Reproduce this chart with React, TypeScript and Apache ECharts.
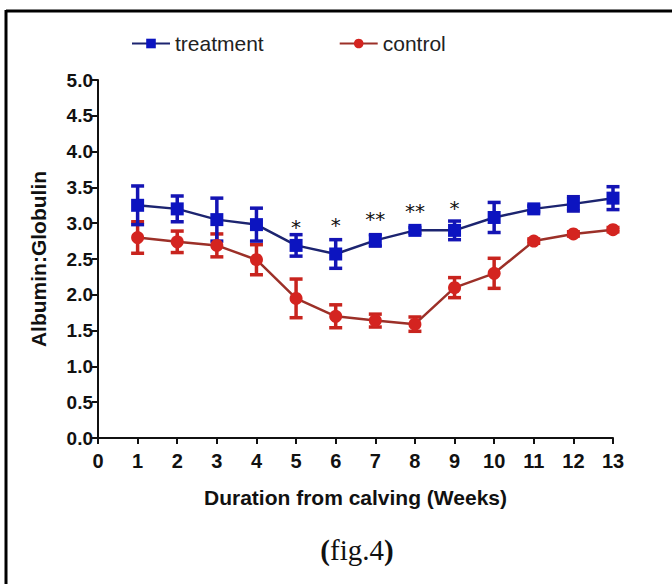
import React, { useEffect, useRef } from "react";
import * as echarts from "echarts";

const weeks = [1, 2, 3, 4, 5, 6, 7, 8, 9, 10, 11, 12, 13];
const treatmentMean = [3.25, 3.2, 3.05, 2.98, 2.69, 2.57, 2.76, 2.9, 2.9, 3.08, 3.2, 3.27, 3.35];
const treatmentErr = [0.27, 0.18, 0.3, 0.23, 0.15, 0.2, 0.08, 0.04, 0.13, 0.21, 0.04, 0.1, 0.16];
const controlMean = [2.8, 2.74, 2.69, 2.49, 1.95, 1.7, 1.64, 1.59, 2.1, 2.3, 2.75, 2.85, 2.91];
const controlErr = [0.22, 0.15, 0.16, 0.21, 0.27, 0.16, 0.09, 0.1, 0.14, 0.21, 0.03, 0.03, 0.03];
const starWeeks = [5, 6, 7, 8, 9];
const starLevels = [2.95, 2.98, 3.06, 3.17, 3.21];
const starMarks = ["*", "*", "**", "**", "*"];
const xTicks = [0, 1, 2, 3, 4, 5, 6, 7, 8, 9, 10, 11, 12, 13];

const FONT = "Liberation Sans, Arial, sans-serif";

function errorSeries(means: number[], errs: number[], color: string) {
  return {
    type: "custom",
    silent: true,
    z: 3,
    data: weeks.map((w, i) => [w, means[i] - errs[i], means[i] + errs[i]]),
    renderItem: (params: any, api: any) => {
      const x = api.value(0);
      const lo = api.coord([x, api.value(1)]);
      const hi = api.coord([x, api.value(2)]);
      const hw = 6.5;
      const style = { stroke: color, lineWidth: 3.5 };
      return {
        type: "group",
        children: [
          { type: "line", shape: { x1: lo[0], y1: lo[1], x2: hi[0], y2: hi[1] }, style },
          { type: "line", shape: { x1: lo[0] - hw, y1: lo[1], x2: lo[0] + hw, y2: lo[1] }, style },
          { type: "line", shape: { x1: hi[0] - hw, y1: hi[1], x2: hi[0] + hw, y2: hi[1] }, style },
        ],
      };
    },
  };
}

export default function App() {
  const ref = useRef<HTMLDivElement>(null);
  useEffect(() => {
    document.body.style.margin = "0";
    const chart = echarts.init(ref.current!, undefined, { renderer: "svg" });
    chart.setOption({
      animation: false,
      backgroundColor: "#ffffff",
      textStyle: { fontFamily: FONT },
      legend: {
        top: 28,
        left: 126,
        itemGap: 75,
        itemWidth: 38,
        itemHeight: 12,
        textStyle: { fontSize: 21, color: "#222", fontFamily: FONT },
        data: ["treatment", "control"],
      },
      grid: { left: 98, right: 59, top: 80, bottom: 146 },
      xAxis: {
        type: "value",
        min: 0,
        max: 13,
        interval: 1,
        name: "Duration from calving (Weeks)",
        nameLocation: "middle",
        nameGap: 49,
        nameTextStyle: { fontSize: 21, fontWeight: "bold", color: "#111", fontFamily: FONT },
        axisLine: { show: true, lineStyle: { color: "#111", width: 2 } },
        axisTick: { show: true, length: 6, lineStyle: { color: "#111", width: 2 } },
        axisLabel: {
          fontSize: 20,
          fontWeight: "bold",
          color: "#111",
          margin: 13,
          formatter: (v: number) => (xTicks.includes(v) ? String(v) : ""),
        },
        splitLine: { show: false },
      },
      yAxis: {
        type: "value",
        min: 0,
        max: 5,
        interval: 0.5,
        name: "Albumin:Globulin",
        nameLocation: "middle",
        nameGap: 49,
        nameTextStyle: { fontSize: 21, fontWeight: "bold", color: "#111", fontFamily: FONT },
        axisLine: { show: true, lineStyle: { color: "#111", width: 2 } },
        axisTick: { show: true, length: 6, lineStyle: { color: "#111", width: 2 } },
        axisLabel: {
          fontSize: 19,
          fontWeight: "bold",
          color: "#111",
          margin: 5,
          formatter: (v: number) => v.toFixed(1),
        },
        splitLine: { show: false },
      },
      graphic: [
        { type: "line", shape: { x1: 6, y1: 11, x2: 672, y2: 11 }, style: { stroke: "#000", lineWidth: 3 } },
        { type: "line", shape: { x1: 6, y1: 10, x2: 6, y2: 584 }, style: { stroke: "#000", lineWidth: 3 } },
        {
          type: "text",
          x: 357,
          y: 550,
          style: {
            text: "{p|(}{t|fig.4}{p|)}",
            rich: {
              p: { font: "bold 29px 'Liberation Serif', 'Times New Roman', serif", fill: "#111" },
              t: { font: "29px 'Liberation Serif', 'Times New Roman', serif", fill: "#111" },
            },
            textAlign: "center",
            textVerticalAlign: "middle",
          },
        },
      ],
      series: [
        errorSeries(controlMean, controlErr, "#c8241e"),
        errorSeries(treatmentMean, treatmentErr, "#1414b4"),
        {
          name: "control",
          type: "line",
          z: 4,
          data: weeks.map((w, i) => [w, controlMean[i]]),
          symbol: "circle",
          symbolSize: 13,
          itemStyle: { color: "#d42420" },
          lineStyle: { color: "#9c3028", width: 2.5 },
        },
        {
          name: "treatment",
          type: "line",
          z: 5,
          data: weeks.map((w, i) => [w, treatmentMean[i]]),
          symbol: "rect",
          symbolSize: 13,
          itemStyle: { color: "#0c14c0" },
          lineStyle: { color: "#1c2470", width: 2.5 },
        },
        {
          type: "custom",
          silent: true,
          z: 6,
          data: starWeeks.map((w, i) => [w, starLevels[i], i]),
          renderItem: (params: any, api: any) => {
            const p = api.coord([api.value(0), api.value(1)]);
            return {
              type: "text",
              x: p[0],
              y: p[1],
              style: {
                text: starMarks[api.value(2)],
                font: "20px 'DejaVu Sans', sans-serif",
                fill: "#111",
                textAlign: "center",
                textVerticalAlign: "middle",
              },
            };
          },
        },
      ],
    });
    return () => chart.dispose();
  }, []);
  return <div ref={ref} style={{ width: 672, height: 584 }} />;
}
